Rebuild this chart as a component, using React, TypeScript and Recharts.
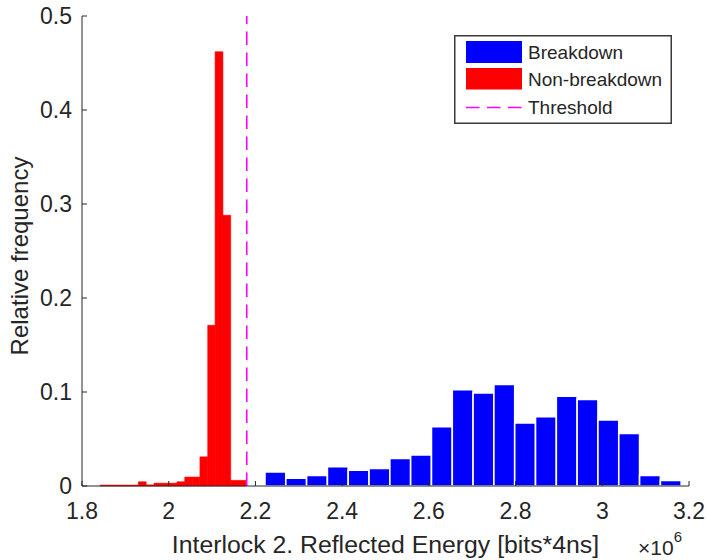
import React from 'react';
import { ComposedChart, XAxis, YAxis, Line, ReferenceArea, Legend } from 'recharts';

// Axis ticks
const xTicks = [1.8, 2, 2.2, 2.4, 2.6, 2.8, 3, 3.2];
const yTicks = [0, 0.1, 0.2, 0.3, 0.4, 0.5];

// Non-breakdown histogram: bin edges (x10^6) and relative frequency per bin
const nonBreakdownEdges = [
  1.842, 1.860, 1.877, 1.895, 1.913, 1.930, 1.948, 1.966, 1.984, 2.001,
  2.019, 2.037, 2.054, 2.072, 2.090, 2.107, 2.125, 2.143, 2.160, 2.178,
];
const nonBreakdownFreq = [
  0.001, 0.001, 0.001, 0.001, 0.001, 0.0045, 0.0012, 0.003, 0.003, 0.003,
  0.0045, 0.0095, 0.0095, 0.031, 0.171, 0.462, 0.288, 0.006, 0.006,
];

// Breakdown histogram: bin edges (x10^6) and relative frequency per bin
const breakdownEdges = [
  2.222, 2.270, 2.318, 2.366, 2.414, 2.462, 2.510, 2.558, 2.606, 2.654, 2.702,
  2.750, 2.798, 2.846, 2.894, 2.942, 2.990, 3.038, 3.086, 3.134, 3.182,
];
const breakdownFreq = [
  0.0149, 0.0082, 0.0113, 0.0206, 0.0167, 0.0188, 0.0294, 0.033, 0.063, 0.1025,
  0.099, 0.108, 0.067, 0.0738, 0.0954, 0.0922, 0.0702, 0.056, 0.0113, 0.006,
];

// Decision threshold (x10^6)
const threshold = 2.18;

const seriesNames = ['Breakdown', 'Non-breakdown', 'Threshold'];
const seriesColors = ['#0000ff', '#ff0000', '#ff00ff'];

const thresholdLine = [
  { x: threshold, y: yTicks[0] },
  { x: threshold, y: yTicks[yTicks.length - 1] },
];

const FONT = '"Liberation Sans", Arial, Helvetica, sans-serif';
const INK = '#262626';
const DASH = '13.5 7.5';

const XTitle = (props: any) => {
  const vb = props.viewBox || { x: 0, y: 0, width: 0, height: 0 };
  return (
    <g>
      <text
        x={vb.x + vb.width / 2}
        y={vb.y + 67}
        textAnchor="middle"
        fontFamily={FONT}
        fontSize={24.8}
        fill={INK}
      >
        Interlock 2. Reflected Energy [bits*4ns]
      </text>
      <text x={vb.x + vb.width - 51} y={vb.y + 69} fontFamily={FONT} fontSize={21} fill={INK}>
        ×10
        <tspan dy={-13} fontSize={15}>6</tspan>
      </text>
    </g>
  );
};

const YTitle = (props: any) => {
  const vb = props.viewBox || { x: 0, y: 0, width: 0, height: 0 };
  const cx = vb.x + 19;
  const cy = vb.y + vb.height / 2 + 5;
  return (
    <text
      x={cx}
      y={cy}
      transform={`rotate(-90 ${cx} ${cy})`}
      textAnchor="middle"
      dominantBaseline="central"
      fontFamily={FONT}
      fontSize={24}
      fill={INK}
    >
      Relative frequency
    </text>
  );
};

const LegendBox = () => (
  <svg width={218} height={89} style={{ display: 'block' }}>
    <rect x={0.75} y={0.75} width={216.5} height={87.5} fill="#fff" stroke="#3a3a3a" strokeWidth={1.5} />
    <rect x={12} y={6} width={56} height={22} fill={seriesColors[0]} />
    <rect x={12} y={33} width={56} height={21.5} fill={seriesColors[1]} />
    <line x1={12} y1={72.5} x2={68} y2={72.5} stroke={seriesColors[2]} strokeWidth={1.6} strokeDasharray={DASH} />
    {seriesNames.map((name, i) => (
      <text
        key={name}
        x={74}
        y={[17.5, 44, 72.5][i]}
        dominantBaseline="central"
        fontFamily={FONT}
        fontSize={19}
        fill={INK}
      >
        {name}
      </text>
    ))}
  </svg>
);

export default function App() {
  return (
    <div style={{ position: 'absolute', left: 0, top: 0, width: 709, height: 560, background: '#fff' }}>
      <ComposedChart width={709} height={560} margin={{ top: 16, right: 20, bottom: 0, left: 0 }}>
        <XAxis
          dataKey="x"
          type="number"
          domain={[xTicks[0], xTicks[xTicks.length - 1]]}
          ticks={xTicks}
          allowDataOverflow
          height={74}
          tickSize={-5}
          tickMargin={22}
          stroke={INK}
          tick={{ fontSize: 23, fill: INK, fontFamily: FONT }}
          label={<XTitle />}
        />
        <XAxis
          xAxisId="top"
          orientation="top"
          type="number"
          domain={[xTicks[0], xTicks[xTicks.length - 1]]}
          ticks={xTicks}
          height={0}
          tickSize={-5}
          stroke={INK}
          tickFormatter={() => ''}
        />
        <YAxis
          type="number"
          domain={[yTicks[0], yTicks[yTicks.length - 1]]}
          ticks={yTicks}
          allowDataOverflow
          width={82}
          tickSize={-5}
          tickMargin={15}
          stroke={INK}
          tick={{ fontSize: 23, fill: INK, fontFamily: FONT }}
          label={<YTitle />}
        />
        <YAxis
          yAxisId="right"
          orientation="right"
          type="number"
          domain={[yTicks[0], yTicks[yTicks.length - 1]]}
          ticks={yTicks}
          width={0}
          tickSize={-5}
          stroke={INK}
          tickFormatter={() => ''}
        />
        {nonBreakdownFreq.map((f, i) => (
          <ReferenceArea
            key={`nb-${i}`}
            x1={nonBreakdownEdges[i]}
            x2={nonBreakdownEdges[i + 1]}
            y1={0}
            y2={f}
            fill={seriesColors[1]}
            fillOpacity={1}
            stroke={seriesColors[1]}
            strokeWidth={0.6}
            ifOverflow="visible"
          />
        ))}
        {breakdownFreq.map((f, i) => (
          <ReferenceArea
            key={`b-${i}`}
            x1={breakdownEdges[i]}
            x2={breakdownEdges[i + 1]}
            y1={0}
            y2={f}
            fill={seriesColors[0]}
            fillOpacity={1}
            stroke="#ffffff"
            strokeWidth={1.6}
            ifOverflow="visible"
          />
        ))}
        <Line
          data={thresholdLine}
          dataKey="y"
          name={seriesNames[2]}
          stroke={seriesColors[2]}
          strokeWidth={1.6}
          strokeDasharray={DASH}
          dot={false}
          activeDot={false}
          isAnimationActive={false}
        />
        <Legend
          layout="vertical"
          align="center"
          verticalAlign="middle"
          content={() => <LegendBox />}
          wrapperStyle={{ left: 454, top: 35, width: 218, height: 89, right: 'auto', bottom: 'auto' }}
        />
      </ComposedChart>
    </div>
  );
}
